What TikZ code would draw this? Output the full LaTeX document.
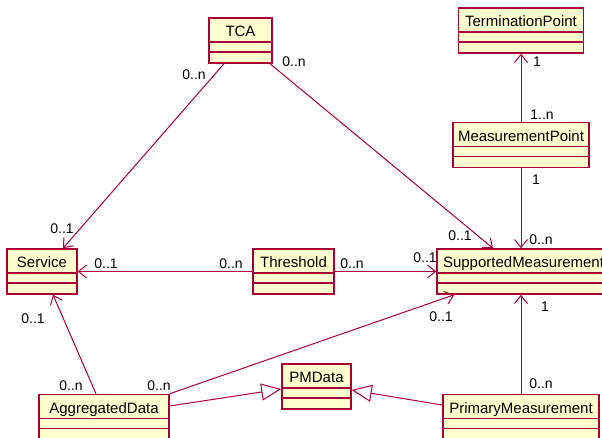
\documentclass[tikz,border=0pt]{standalone}
\usepackage{fontspec}
\setmainfont{Liberation Sans}
\usetikzlibrary{arrows.meta}
\definecolor{umlred}{HTML}{A80036}
\definecolor{umlfill}{HTML}{FEFECE}

\begin{document}
\begin{tikzpicture}[x=1pt, y=-1pt,
    cls/.style = {draw=umlred, fill=umlfill, line width=1.5pt,
        inner xsep=0pt, inner ysep=0pt, minimum width=#1,
        text height=18.5pt, text depth=26.5pt,
        font=\fontsize{15}{17}\selectfont,
        path picture={\draw[umlred, line width=1.5pt]
            ([yshift=-24pt]path picture bounding box.north west) -- ([yshift=-24pt]path picture bounding box.north east)
            ([yshift=-34pt]path picture bounding box.north west) -- ([yshift=-34pt]path picture bounding box.north east);}},
    mult/.style = {font=\fontsize{14}{16}\selectfont, inner sep=0pt},
    assoc/.style = {draw=umlred, line width=1pt, -{Straight Barb[length=8pt, width=13pt]}},
    gen/.style = {draw=umlred, line width=1pt, -{Triangle[open, length=20pt, width=17pt]}}]
    \useasboundingbox (0,0) rectangle (602,437);
    \fill[white] (0,0) rectangle (602,437);
    \clip (0,0) rectangle (602,437);

    % classes
    \node[cls=63] (tca) at (240.5,40.5) {TCA};
    \node[cls=125] (term) at (521,30.5) {TerminationPoint};
    \node[cls=136] (mpoint) at (521,145) {MeasurementPoint};
    \node[cls=70] (service) at (42,271.5) {Service};
    \node[cls=81] (threshold) at (293.5,271.5) {Threshold};
    \node[cls=173] (supp) at (523.5,271.5) {SupportedMeasurement};
    \node[cls=130] (aggr) at (104,417) {AggregatedData};
    \node[cls=69] (pmdata) at (316.5,386.5) {PMData};
    \node[cls=156] (prim) at (521,417) {PrimaryMeasurement};

    % associations
    \draw[assoc] ([xshift=-16.5pt]tca.south) -- ([xshift=21pt]service.north);
    \draw[assoc] ([xshift=29.5pt]tca.south) -- ([xshift=-30.5pt]supp.north);
    \draw[assoc] (mpoint.north) -- (term.south);
    \draw[assoc] (mpoint.south) -- (mpoint.south |- supp.north);
    \draw[assoc] (threshold.west) -- (service.east);
    \draw[assoc] (threshold.east) -- (supp.west);
    \draw[assoc] ([xshift=-8pt]aggr.north) -- ([xshift=11pt]service.south);
    \draw[assoc] (aggr.north east) -- ([xshift=18pt]supp.south west);
    \draw[assoc] (prim.north) -- (prim.north |- supp.south);

    % generalisations
    \draw[gen] ([yshift=11pt]aggr.east) -- ([yshift=-2.5pt]pmdata.west);
    \draw[gen] ([yshift=12pt]prim.west) -- ([yshift=-3.5pt]pmdata.east);

    % multiplicities
    \node[mult] (m1) at (194,75) {0..n};
    \node[mult] (m2) at (62,229) {0..1};
    \node[mult] (m3) at (294,62) {0..n};
    \node[mult] (m4) at (460,236) {0..1};
    \node[mult] (m5) at (537,62) {1};
    \node[mult] (m6) at (542,115) {1..n};
    \node[mult] (m7) at (536,180) {1};
    \node[mult] (m8) at (541,240) {0..n};
    \node[mult] (m9) at (231,264) {0..n};
    \node[mult] (m10) at (106,264) {0..1};
    \node[mult] (m11) at (352,264) {0..n};
    \node[mult] (m12) at (425,258) {0..1};
    \node[mult] (m13) at (71,386) {0..n};
    \node[mult] (m14) at (33,319) {0..1};
    \node[mult] (m15) at (159,386) {0..n};
    \node[mult] (m16) at (441,317) {0..1};
    \node[mult] (m17) at (541,384) {0..n};
    \node[mult] (m18) at (545,307) {1};
\end{tikzpicture}
\end{document}
